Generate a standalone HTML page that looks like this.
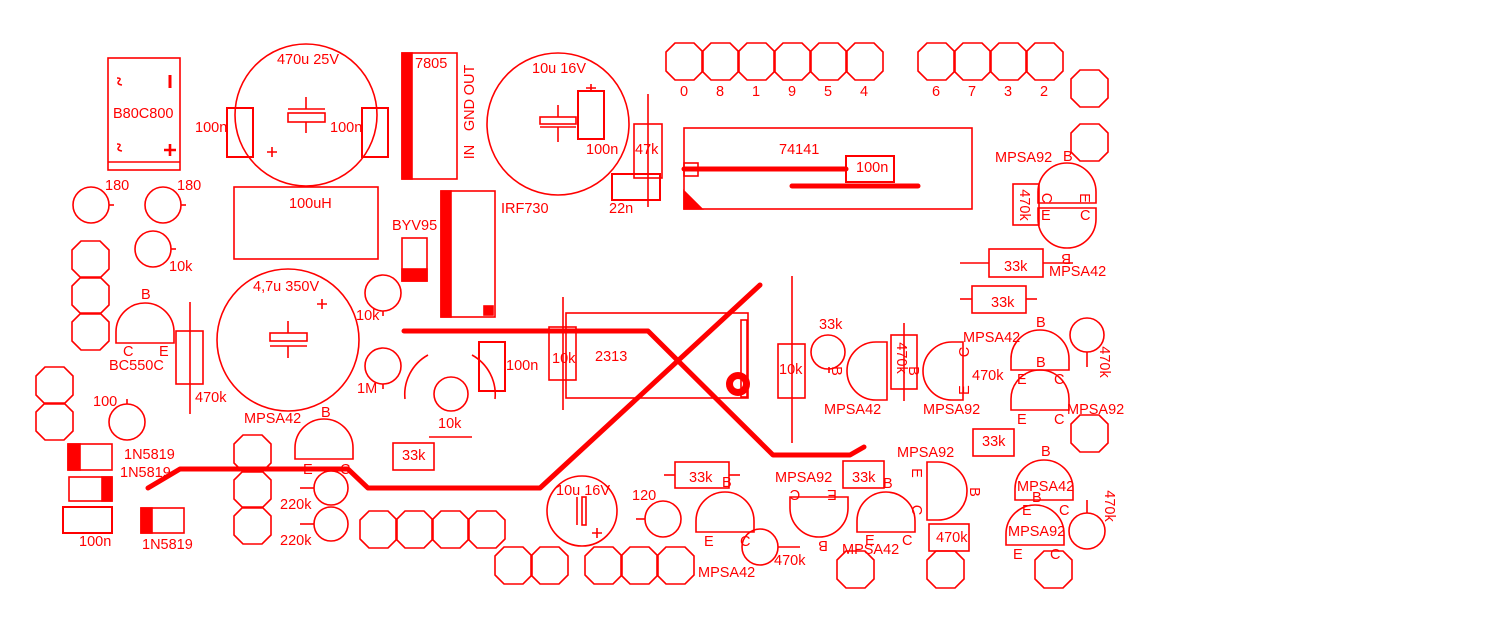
<!DOCTYPE html>
<html><head><meta charset="utf-8"><style>
html,body{margin:0;padding:0;background:#fff;}
svg{display:block;}
text{font-family:"Liberation Sans",sans-serif;font-size:14.5px;fill:#f00;}
</style></head><body>
<svg width="1499" height="630" viewBox="0 0 1499 630" xmlns="http://www.w3.org/2000/svg">
<defs>
<polygon id="oct" points="9,0 28,0 37,9 37,28 28,37 9,37 0,28 0,9" fill="none" stroke="#f00" stroke-width="1.6"/>
<path id="to92" d="M-29,0 A29,29 0 0 1 29,0 L29,11 L-29,11 Z" fill="none" stroke="#f00" stroke-width="1.6"/>
</defs>
<g fill="none" stroke="#f00" stroke-width="1.6">
<!-- octagon pads -->
<use href="#oct" x="666" y="43"/><use href="#oct" x="702" y="43"/><use href="#oct" x="738" y="43"/><use href="#oct" x="774" y="43"/><use href="#oct" x="810" y="43"/><use href="#oct" x="846" y="43"/>
<use href="#oct" x="918" y="43"/><use href="#oct" x="954" y="43"/><use href="#oct" x="990" y="43"/><use href="#oct" x="1026" y="43"/>
<use href="#oct" x="1071" y="70"/><use href="#oct" x="1071" y="124"/>
<use href="#oct" x="72" y="241"/><use href="#oct" x="72" y="277"/><use href="#oct" x="72" y="313"/>
<use href="#oct" x="36" y="367"/><use href="#oct" x="36" y="403"/>
<use href="#oct" x="234" y="435"/><use href="#oct" x="234" y="471"/><use href="#oct" x="234" y="507"/>
<use href="#oct" x="360" y="511"/><use href="#oct" x="396" y="511"/><use href="#oct" x="432" y="511"/><use href="#oct" x="468" y="511"/>
<use href="#oct" x="495" y="547"/><use href="#oct" x="531" y="547"/>
<use href="#oct" x="585" y="547"/><use href="#oct" x="621" y="547"/><use href="#oct" x="657" y="547"/>
<use href="#oct" x="837" y="551"/><use href="#oct" x="927" y="551"/><use href="#oct" x="1035" y="551"/>
<use href="#oct" x="1071" y="415"/>

<!-- bridge -->
<rect x="108" y="58" width="72" height="112"/>
<line x1="108" y1="162" x2="180" y2="162"/>
<path d="M117,78 q5,0 2,3 q-3,3 3,4 M117,144 q5,0 2,3 q-3,3 3,4" stroke-width="1.5"/>
<line x1="170" y1="75" x2="170" y2="88" stroke-width="3"/>
<path d="M164,150 h12 M170,144 v12" stroke-width="2.6"/>

<!-- 470u cap -->
<circle cx="306" cy="115" r="71"/>
<line x1="306" y1="97" x2="306" y2="109"/>
<line x1="288" y1="109" x2="325" y2="109"/>
<rect x="288" y="113" width="37" height="9"/>
<line x1="306" y1="122" x2="306" y2="133"/>
<path d="M267,152 h10 M272,147 v10"/>
<rect x="227" y="108" width="26" height="49" stroke-width="2"/>
<rect x="362" y="108" width="26" height="49" stroke-width="2"/>

<!-- 7805 -->
<rect x="402" y="53" width="55" height="126"/>
<rect x="402" y="53" width="10" height="126" fill="#f00"/>

<!-- 10u 16V big -->
<circle cx="558" cy="124" r="71"/>
<line x1="558" y1="105" x2="558" y2="117"/>
<rect x="540" y="117" width="36" height="7"/>
<line x1="540" y1="127" x2="576" y2="127"/>
<line x1="558" y1="127" x2="558" y2="142"/>
<rect x="578" y="91" width="26" height="48" stroke-width="2"/>
<path d="M586,88 h10 M591,84 v7"/>

<!-- 47k / 22n -->
<line x1="648" y1="94" x2="648" y2="207"/>
<rect x="634" y="124" width="28" height="54"/>
<rect x="612" y="174" width="48" height="26" stroke-width="2"/>

<!-- 74141 -->
<rect x="684" y="128" width="288" height="81"/>
<rect x="684" y="163" width="14" height="13"/>
<polygon points="684,191 684,209 702,209" fill="#f00"/>
<rect x="846" y="156" width="48" height="26" stroke-width="2"/>

<!-- top right transistors -->
<use href="#to92" transform="translate(1067,192)"/>
<use href="#to92" transform="translate(1067,219) rotate(180)"/>
<rect x="1013" y="184" width="26" height="41"/>
<line x1="960" y1="263" x2="989" y2="263"/><line x1="1043" y1="263" x2="1073" y2="263"/>
<rect x="989" y="249" width="54" height="28"/>
<line x1="960" y1="299" x2="972" y2="299"/><line x1="1026" y1="299" x2="1037" y2="299"/>
<rect x="972" y="286" width="54" height="27"/>

<!-- left circles -->
<circle cx="91" cy="205" r="18"/><line x1="109" y1="205" x2="114" y2="205"/>
<circle cx="163" cy="205" r="18"/><line x1="181" y1="205" x2="186" y2="205"/>
<circle cx="153" cy="249" r="18"/><line x1="171" y1="249" x2="176" y2="249"/>

<!-- 100uH -->
<rect x="234" y="187" width="144" height="72"/>

<!-- BYV95 -->
<rect x="402" y="238" width="25" height="43"/>
<rect x="402" y="269" width="25" height="12" fill="#f00"/>

<!-- IRF730 -->
<rect x="441" y="191" width="54" height="126"/>
<rect x="441" y="191" width="10" height="126" fill="#f00"/>
<rect x="484" y="306" width="9" height="9" fill="#f00"/>

<!-- circles 10k, 1M -->
<circle cx="383" cy="293" r="18"/><line x1="383" y1="311" x2="383" y2="316"/>
<circle cx="383" cy="366" r="18"/><line x1="383" y1="384" x2="383" y2="389"/>

<!-- 4,7u cap -->
<circle cx="288" cy="340" r="71"/>
<line x1="288" y1="321" x2="288" y2="333"/>
<rect x="270" y="333" width="37" height="8"/>
<line x1="270" y1="346" x2="307" y2="346"/>
<line x1="288" y1="346" x2="288" y2="358"/>
<path d="M317,304 h10 M322,299 v10"/>

<!-- BC550C -->
<use href="#to92" transform="translate(145,332)"/>
<line x1="190" y1="302" x2="190" y2="414"/>
<rect x="176" y="331" width="27" height="53"/>

<!-- trimmer arcs -->
<path d="M428,355 A45,45 0 0 0 405,399"/>
<path d="M472,355 A45,45 0 0 1 495,399"/>
<circle cx="451" cy="394" r="17"/>
<line x1="429" y1="437" x2="472" y2="437"/>
<rect x="479" y="342" width="26" height="49" stroke-width="2"/>

<!-- 100 circle -->
<circle cx="127" cy="422" r="18"/><line x1="127" y1="399" x2="127" y2="404"/>

<!-- MPSA42 mid-left -->
<use href="#to92" transform="translate(324,448)"/>
<circle cx="331" cy="488" r="17"/><line x1="300" y1="488" x2="314" y2="488"/>
<circle cx="331" cy="524" r="17"/><line x1="300" y1="524" x2="314" y2="524"/>
<rect x="393" y="443" width="41" height="27"/>

<!-- diodes -->
<rect x="68" y="444" width="44" height="26"/><rect x="68" y="444" width="12" height="26" fill="#f00"/>
<rect x="69" y="477" width="43" height="24"/><rect x="102" y="477" width="10" height="24" fill="#f00"/>
<rect x="63" y="507" width="49" height="26" stroke-width="2"/>
<rect x="141" y="508" width="43" height="25"/><rect x="141" y="508" width="11" height="25" fill="#f00"/>

<!-- 2313 -->
<rect x="566" y="313" width="182" height="85"/>
<rect x="741" y="320" width="6" height="77"/>
<line x1="563" y1="297" x2="563" y2="410"/>
<rect x="549" y="327" width="27" height="53"/>
<line x1="792" y1="276" x2="792" y2="443"/>
<rect x="778" y="344" width="27" height="54"/>

<!-- middle right -->
<circle cx="828" cy="352" r="17"/><line x1="829" y1="367" x2="829" y2="373"/>
<use href="#to92" transform="translate(876,371) rotate(-90)"/>
<line x1="904" y1="323" x2="904" y2="401"/>
<rect x="891" y="335" width="26" height="54"/>
<use href="#to92" transform="translate(952,371) rotate(-90)"/>
<use href="#to92" transform="translate(1040,359)"/>
<use href="#to92" transform="translate(1040,399)"/>
<circle cx="1087" cy="335" r="17"/><line x1="1087" y1="352" x2="1087" y2="367"/>
<rect x="973" y="429" width="41" height="27"/>

<!-- bottom -->
<circle cx="582" cy="511" r="35"/>
<line x1="577" y1="497" x2="577" y2="525"/>
<rect x="582" y="497" width="4" height="28"/>
<path d="M592,533 h10 M597,528 v10"/>
<circle cx="663" cy="519" r="18"/><line x1="636" y1="519" x2="645" y2="519"/>
<line x1="664" y1="475" x2="675" y2="475"/><line x1="729" y1="475" x2="740" y2="475"/>
<rect x="675" y="462" width="54" height="26"/>
<use href="#to92" transform="translate(725,521)"/>
<circle cx="760" cy="547" r="18"/><line x1="778" y1="547" x2="800" y2="547"/>
<use href="#to92" transform="translate(819,508) rotate(180)"/>
<rect x="843" y="461" width="41" height="27"/>
<use href="#to92" transform="translate(886,521)"/>
<use href="#to92" transform="translate(938,491) rotate(90)"/>
<rect x="929" y="524" width="40" height="27"/>
<use href="#to92" transform="translate(1044,489)"/>
<use href="#to92" transform="translate(1035,534)"/>
<circle cx="1087" cy="531" r="18"/><line x1="1087" y1="500" x2="1087" y2="513"/>
</g>

<!-- thick traces -->
<g fill="none" stroke="#f00" stroke-width="5" stroke-linecap="round" stroke-linejoin="round">
<line x1="684" y1="169" x2="846" y2="169"/>
<line x1="792" y1="186" x2="918" y2="186"/>
<polyline points="148,488 180,469 348,469 368,488 540,488 760,285"/>
<polyline points="404,331 648,331 773,455 850,455 864,447"/>
</g>
<circle cx="738" cy="384" r="8.5" fill="none" stroke="#f00" stroke-width="7"/>

<!-- labels -->
<text x="308" y="64" text-anchor="middle">470u 25V</text>
<text x="195" y="132">100n</text>
<text x="330" y="132">100n</text>
<text x="415" y="68">7805</text>
<text transform="translate(474,80) rotate(-90)" text-anchor="middle">OUT</text>
<text transform="translate(474,115) rotate(-90)" text-anchor="middle">GND</text>
<text transform="translate(474,152) rotate(-90)" text-anchor="middle">IN</text>
<text x="113" y="118">B80C800</text>
<text x="105" y="190">180</text>
<text x="177" y="190">180</text>
<text x="289" y="208">100uH</text>
<text x="392" y="230">BYV95</text>
<text x="169" y="271">10k</text>
<text x="501" y="213">IRF730</text>
<text x="532" y="73">10u 16V</text>
<text x="586" y="154">100n</text>
<text x="635" y="154">47k</text>
<text x="609" y="213">22n</text>
<text x="779" y="154">74141</text>
<text x="856" y="172">100n</text>
<text x="684" y="96" text-anchor="middle">0</text>
<text x="720" y="96" text-anchor="middle">8</text>
<text x="756" y="96" text-anchor="middle">1</text>
<text x="792" y="96" text-anchor="middle">9</text>
<text x="828" y="96" text-anchor="middle">5</text>
<text x="864" y="96" text-anchor="middle">4</text>
<text x="936" y="96" text-anchor="middle">6</text>
<text x="972" y="96" text-anchor="middle">7</text>
<text x="1008" y="96" text-anchor="middle">3</text>
<text x="1044" y="96" text-anchor="middle">2</text>
<text x="995" y="162">MPSA92</text>
<text x="1063" y="161">B</text>
<text transform="translate(1042,198) rotate(90)" text-anchor="middle">C</text>
<text transform="translate(1080,198) rotate(90)" text-anchor="middle">E</text>
<text x="1041" y="220">E</text>
<text x="1080" y="220">C</text>
<text transform="translate(1071,254) rotate(180)">B</text>
<text transform="translate(1020,205) rotate(90)" text-anchor="middle">470k</text>
<text x="1049" y="276">MPSA42</text>
<text x="1004" y="271">33k</text>
<text x="991" y="307">33k</text>
<text x="253" y="291">4,7u 350V</text>
<text x="141" y="299">B</text>
<text x="123" y="356">C</text>
<text x="159" y="356">E</text>
<text x="109" y="370">BC550C</text>
<text x="195" y="402">470k</text>
<text x="356" y="320">10k</text>
<text x="357" y="393">1M</text>
<text x="506" y="370">100n</text>
<text x="438" y="428">10k</text>
<text x="93" y="406">100</text>
<text x="244" y="423">MPSA42</text>
<text x="321" y="417">B</text>
<text x="402" y="460">33k</text>
<text x="124" y="459">1N5819</text>
<text x="120" y="477">1N5819</text>
<text x="79" y="546">100n</text>
<text x="142" y="549">1N5819</text>
<text x="280" y="509">220k</text>
<text x="280" y="545">220k</text>
<text x="303" y="474">E</text>
<text x="340" y="474">C</text>
<text x="595" y="361">2313</text>
<text x="552" y="363">10k</text>
<text x="779" y="374">10k</text>
<text x="819" y="329">33k</text>
<text transform="translate(832,371) rotate(90)" text-anchor="middle">B</text>
<text x="824" y="414">MPSA42</text>
<text transform="translate(897,358) rotate(90)" text-anchor="middle">470k</text>
<text transform="translate(909,371) rotate(90)" text-anchor="middle">B</text>
<text x="923" y="414">MPSA92</text>
<text transform="translate(969,352) rotate(-90)" text-anchor="middle">C</text>
<text transform="translate(969,390) rotate(-90)" text-anchor="middle">E</text>
<text x="963" y="342">MPSA42</text>
<text x="972" y="380">470k</text>
<text x="1036" y="327">B</text>
<text x="1036" y="367">B</text>
<text x="1017" y="384">E</text>
<text x="1054" y="384">C</text>
<text x="1017" y="424">E</text>
<text x="1054" y="424">C</text>
<text x="1067" y="414">MPSA92</text>
<text transform="translate(1100,362) rotate(90)" text-anchor="middle">470k</text>
<text x="982" y="446">33k</text>
<text x="897" y="457">MPSA92</text>
<text x="556" y="495">10u 16V</text>
<text x="632" y="500">120</text>
<text x="689" y="482">33k</text>
<text x="722" y="487">B</text>
<text x="704" y="546">E</text>
<text x="740" y="546">C</text>
<text x="774" y="565">470k</text>
<text x="698" y="577">MPSA42</text>
<text x="775" y="482">MPSA92</text>
<text transform="translate(795,490) rotate(180)" text-anchor="middle">C</text>
<text transform="translate(832,490) rotate(180)" text-anchor="middle">E</text>
<text transform="translate(823,541) rotate(180)" text-anchor="middle">B</text>
<text x="852" y="482">33k</text>
<text x="883" y="488">B</text>
<text x="865" y="545">E</text>
<text x="902" y="545">C</text>
<text x="842" y="554">MPSA42</text>
<text transform="translate(912,473) rotate(90)" text-anchor="middle">E</text>
<text transform="translate(912,510) rotate(90)" text-anchor="middle">C</text>
<text transform="translate(970,492) rotate(90)" text-anchor="middle">B</text>
<text x="936" y="542">470k</text>
<text x="1041" y="456">B</text>
<text x="1017" y="491">MPSA42</text>
<text x="1032" y="502">B</text>
<text x="1022" y="515">E</text>
<text x="1059" y="515">C</text>
<text x="1008" y="536">MPSA92</text>
<text x="1013" y="559">E</text>
<text x="1050" y="559">C</text>
<text transform="translate(1105,506) rotate(90)" text-anchor="middle">470k</text>
</svg>
</body></html>
